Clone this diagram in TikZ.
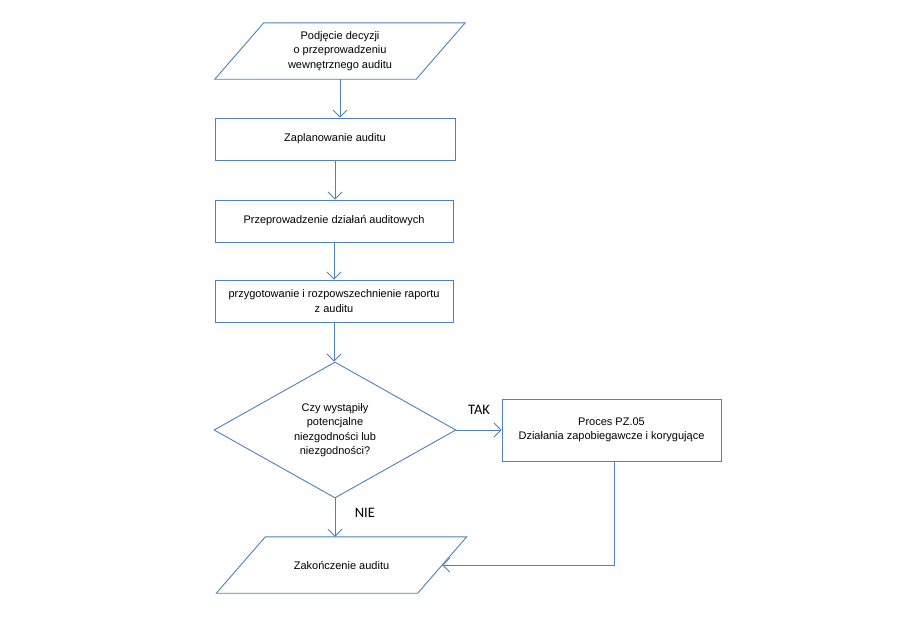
\documentclass[tikz,border=0pt]{standalone}
\usepackage{fontspec}
\setmainfont{Liberation Sans}
\newfontfamily\labelfont{Carlito}
\usetikzlibrary{shapes.geometric,arrows.meta,calc}
\definecolor{lineblue}{RGB}{79,129,189}
\tikzset{
    flow/.style={draw=lineblue, line width=0.9pt},
    stepbox/.style={flow, rectangle, minimum height=42pt, align=center,
        font=\fontsize{11}{14.5}\selectfont},
    iobox/.style={rectangle, minimum height=56pt, minimum width=250pt, inner sep=0pt,
        align=center, font=\fontsize{11}{14.5}\selectfont},
    slanted/.style={flow, line join=miter},
    decision/.style={flow, diamond, minimum width=242pt, minimum height=136pt, inner sep=0pt,
        align=center, font=\fontsize{11}{14.5}\selectfont},
    link/.style={flow, -{Straight Barb[length=7pt,width=14pt,line width=0.9pt]}},
    answer/.style={font=\labelfont\fontsize{14.5}{16}\selectfont},
}
\begin{document}
\begin{tikzpicture}[x=1pt, y=-1pt]
    \fill[white] (0,0) rectangle (900,640);
    \useasboundingbox (0,0) rectangle (900,640);
    \node[iobox] (start) at (340,51) {Podjęcie decyzji\\o przeprowadzeniu\\wewnętrznego auditu};
    \node[stepbox, minimum width=240pt] (plan) at (335,139) {Zaplanowanie auditu};
    \node[stepbox, minimum width=238pt] (work) at (334,221) {Przeprowadzenie działań auditowych};
    \node[stepbox, minimum width=238pt] (report) at (334,301) {przygotowanie i rozpowszechnienie raportu\\z auditu};
    \node[decision] (check) at (335,430) {Czy wystąpiły\\potencjalne\\niezgodności lub\\niezgodności?};
    \node[stepbox, minimum width=219pt, minimum height=62pt] (pz) at (611.5,430) {Proces PZ.05\\Działania zapobiegawcze i korygujące};
    \node[iobox] (finish) at (341.5,565) {Zakończenie auditu};
    \draw[slanted] ([xshift=49pt]start.north west) -- (start.north east)
        -- ([xshift=-49pt]start.south east) -- (start.south west) -- cycle;
    \draw[slanted] ([xshift=49pt]finish.north west) -- (finish.north east)
        -- ([xshift=-49pt]finish.south east) -- (finish.south west) -- cycle;
    \coordinate (finish in) at ($(finish.north east)!0.5!([xshift=-49pt]finish.south east)$);
    \draw[link] (start.south) -- (start.south |- plan.north);
    \draw[link] (plan.south) -- (plan.south |- work.north);
    \draw[link] (work.south) -- (report.north);
    \draw[link] (report.south) -- (report.south |- check.north);
    \draw[link] (check.east) -- node[answer, above=12pt] {TAK} (pz.west);
    \draw[link] (check.south) -- node[answer, right=16pt, yshift=5pt] {NIE} (check.south |- finish.north);
    \draw[link] ([xshift=2.5pt]pz.south) |- (finish in);
\end{tikzpicture}
\end{document}
